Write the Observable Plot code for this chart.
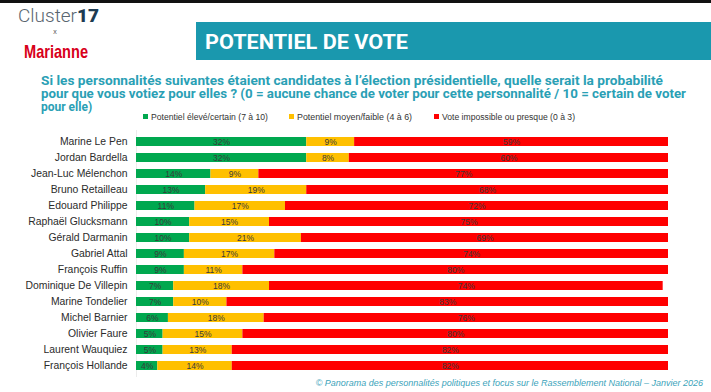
<!DOCTYPE html>
<html>
<head>
<meta charset="utf-8">
<script src="https://cdn.jsdelivr.net/npm/d3@7"></script>
<script src="https://cdn.jsdelivr.net/npm/@observablehq/plot@0.6"></script>
<style>
  html, body { margin: 0; padding: 0; background: #fff; }
  #wrap { position: relative; width: 711px; height: 392px; overflow: hidden; background: #fff; }
  #deco { position: absolute; left: 0; top: 0; }
  #chart { position: absolute; left: 0; top: 126px; }
</style>
</head>
<body>
<div id="wrap">
  <svg id="deco" width="711" height="392"></svg>
  <div id="chart"></div>
</div>
<script>
const names = ["Marine Le Pen","Jordan Bardella","Jean-Luc Mélenchon","Bruno Retailleau","Edouard Philippe","Raphaël Glucksmann","Gérald Darmanin","Gabriel Attal","François Ruffin","Dominique De Villepin","Marine Tondelier","Michel Barnier","Olivier Faure","Laurent Wauquiez","François Hollande"];
const eleve  = [32,32,14,13,11,10,10,9,9,7,7,6,5,5,4];
const moyen  = [9,8,9,19,17,15,21,17,11,18,10,18,15,13,14];
const impossible = [59,60,77,68,72,75,69,74,80,74,83,76,80,82,82];
const categories = ["Potentiel élevé/certain (7 à 10)","Potentiel moyen/faible (4 à 6)","Vote impossible ou presque (0 à 3)"];
const colors = ["#00a84f","#ffc000","#ff0000"];
const title = "POTENTIEL DE VOTE";
const subtitleLines = [
  "Si les personnalités suivantes étaient candidates à l’élection présidentielle, quelle serait la probabilité",
  "pour que vous votiez pour elles ? (0 = aucune chance de voter pour cette personnalité / 10 = certain de voter",
  "pour elle)"
];
const footer = "© Panorama des personnalités politiques et focus sur le Rassemblement National – Janvier 2026";

const series = [eleve, moyen, impossible];
const rows = [];
names.forEach((n, i) => series.forEach((s, k) => rows.push({name: n, cat: categories[k], value: s[i]})));

// Header decoration
const deco = d3.select("#deco");
deco.append("rect").attr("x",0).attr("y",0).attr("width",711).attr("height",3).attr("fill","#111");
// Cluster17 logo text
const logo = deco.append("text").attr("x",18).attr("y",22).attr("font-family","Roboto, 'Liberation Sans', sans-serif").attr("font-size",19);
logo.append("tspan").attr("fill","#5a6670").attr("font-weight",300).text("Cluster");
logo.append("tspan").attr("fill","#1d3b52").attr("font-weight",900).text("17");
deco.append("text").attr("x",55).attr("y",34).attr("font-family","Liberation Sans, sans-serif").attr("font-size",7).attr("fill","#555").attr("text-anchor","middle").text("x");
deco.append("text").attr("x",24).attr("y",58).attr("font-family","'Liberation Sans Narrow', 'Liberation Sans', sans-serif").attr("font-size",19).attr("font-weight",700).attr("fill","#d8001a").attr("textLength",64).attr("lengthAdjust","spacingAndGlyphs").text("Marianne");
// Title band
deco.append("rect").attr("x",196).attr("y",22).attr("width",515).attr("height",38).attr("fill","#1a98ae");
deco.append("text").attr("x",205).attr("y",49).attr("font-family","Roboto, sans-serif").attr("font-weight",700).attr("font-size",21).attr("fill","#fff").attr("textLength",203).attr("lengthAdjust","spacingAndGlyphs").text(title);
// Subtitle
const subLens = [622, 645, null];
subtitleLines.forEach((t, i) => {
  const el = deco.append("text").attr("x",41).attr("y",85 + i*13).attr("font-family","Roboto, sans-serif").attr("font-weight",700).attr("font-size",12).attr("fill","#2aa0b5").text(t);
  if (subLens[i]) el.attr("textLength", subLens[i]).attr("lengthAdjust","spacingAndGlyphs");
});
// Legend
const legX = [143, 289, 434];
const legLen = [117, 115, 133];
categories.forEach((c, i) => {
  deco.append("rect").attr("x",legX[i]).attr("y",114).attr("width",5).attr("height",5).attr("fill",colors[i]);
  deco.append("text").attr("x",legX[i]+8).attr("y",119.5).attr("font-family","'Liberation Sans', Arial, sans-serif").attr("font-size",8.5).attr("fill","#333").attr("textLength",legLen[i]).attr("lengthAdjust","spacingAndGlyphs").text(c);
});
// Footer
deco.append("text").attr("x",703).attr("y",386).attr("text-anchor","end").attr("font-family","'Liberation Sans', Arial, sans-serif").attr("font-style","italic").attr("font-size",9).attr("fill","#3aa3ba").text(footer);

const chart = Plot.plot({
  width: 711,
  height: 256,
  marginLeft: 136,
  marginRight: 43,
  marginTop: 4,
  marginBottom: 5,
  x: {domain: [0, 100], axis: null},
  y: {domain: names, padding: 0.42, label: null, tickSize: 0, tickPadding: 9},
  color: {domain: categories, range: colors},
  style: {fontFamily: "'Liberation Sans', Arial, sans-serif", fontSize: "10.4px", color: "#2b2b2b", background: "transparent"},
  marks: [
    Plot.ruleX([0], {stroke: "#ececec"}),
    Plot.barX(rows, {y: "name", x: "value", fill: "cat"}),
    Plot.text(rows, Plot.stackX({y: "name", x: "value", text: d => d.value + "%", fill: "#3a3a3a", fontSize: 8.5}))
  ]
});
document.getElementById("chart").appendChild(chart);
</script>
</body>
</html>
